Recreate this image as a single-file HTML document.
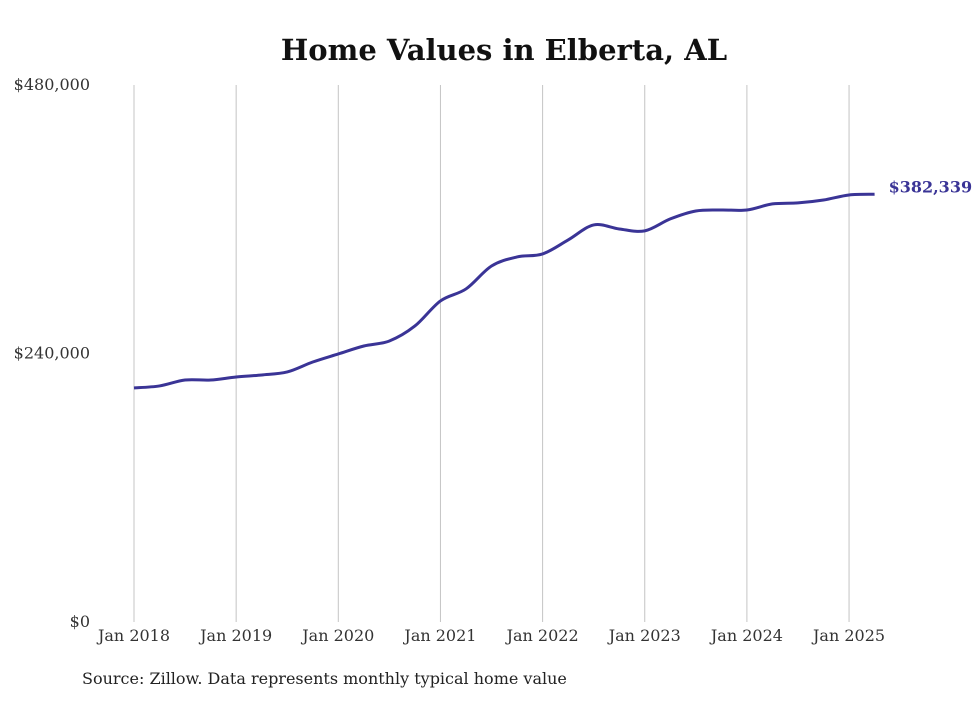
<!DOCTYPE html>
<html><head><meta charset="utf-8"><style>
body{margin:0;background:#fff;width:980px;height:699px;overflow:hidden}
svg text{font-family:"DejaVu Serif","Liberation Serif",serif}
</style></head><body>
<svg width="980" height="699">
<text x="504" y="60" text-anchor="middle" font-size="29" font-weight="bold" fill="#111">Home Values in Elberta, AL</text>
<g id="grid"></g><g id="yaxis"></g><g id="xaxis"></g>
<path id="line" fill="none" stroke="#3a3496" stroke-width="3"/>
<text id="endlabel" font-size="16" font-weight="bold" fill="#3a3496"></text>
<text x="82" y="684" font-size="16" fill="#222">Source: Zillow. Data represents monthly typical home value</text>
</svg>
<script>
const yTicks=[0,240000,480000];
const yTickLabels=["$0","$240,000","$480,000"];
const xTickYears=[2018,2019,2020,2021,2022,2023,2024,2025];
const xTickLabels=["Jan 2018","Jan 2019","Jan 2020","Jan 2021","Jan 2022","Jan 2023","Jan 2024","Jan 2025"];
const startYear=2018;
const quarterValues=[209200,211000,216300,216300,219000,220800,223500,232400,239600,246700,251200,264600,287000,297700,318200,326300,329000,341500,354900,351300,349600,360300,367400,368300,368300,373700,374600,377200,381700,382339];
const lastLabel="$382,339";
const NS="http://www.w3.org/2000/svg";
function xS(t){return 134+(t-startYear)*102.15;}
function yS(v){return 622-v/480000*537;}
const grid=document.getElementById('grid'),ya=document.getElementById('yaxis'),xa=document.getElementById('xaxis');
xTickYears.forEach((yr,i)=>{
 const l=document.createElementNS(NS,'line');
 
 
 l.setAttribute('x1',xS(yr));l.setAttribute('x2',xS(yr));l.setAttribute('y1',85);l.setAttribute('y2',622);
 l.setAttribute('stroke','#c4c4c4');l.setAttribute('stroke-width','1');grid.appendChild(l);
 const t=document.createElementNS(NS,'text');
 
 
 t.setAttribute('x',xS(yr));t.setAttribute('y',641);t.setAttribute('text-anchor','middle');
 t.setAttribute('font-size','16');t.setAttribute('fill','#333');t.textContent=xTickLabels[i];xa.appendChild(t);
});
yTicks.forEach((v,i)=>{
 const t=document.createElementNS(NS,'text');
 
 
 t.setAttribute('x',90);t.setAttribute('y',yS(v)+5);t.setAttribute('text-anchor','end');
 t.setAttribute('font-size','16');t.setAttribute('fill','#333');t.textContent=yTickLabels[i];ya.appendChild(t);
});
const pts=quarterValues.map((v,i)=>[xS(startYear+i*0.25),yS(v)]);
let d='M'+pts[0][0]+','+pts[0][1];
for(let i=0;i<pts.length-1;i++){
 const p0=pts[Math.max(0,i-1)],p1=pts[i],p2=pts[i+1],p3=pts[Math.min(pts.length-1,i+2)];
 const c1=[p1[0]+(p2[0]-p0[0])/6,p1[1]+(p2[1]-p0[1])/6],c2=[p2[0]-(p3[0]-p1[0])/6,p2[1]-(p3[1]-p1[1])/6];
 d+=` C${c1[0]},${c1[1]} ${c2[0]},${c2[1]} ${p2[0]},${p2[1]}`;
}
document.getElementById('line').setAttribute('d',d);
const last=pts[pts.length-1],el=document.getElementById('endlabel');
el.setAttribute('x',last[0]+14);el.setAttribute('y',last[1]-2);el.textContent=lastLabel;
</script>
</body></html>
